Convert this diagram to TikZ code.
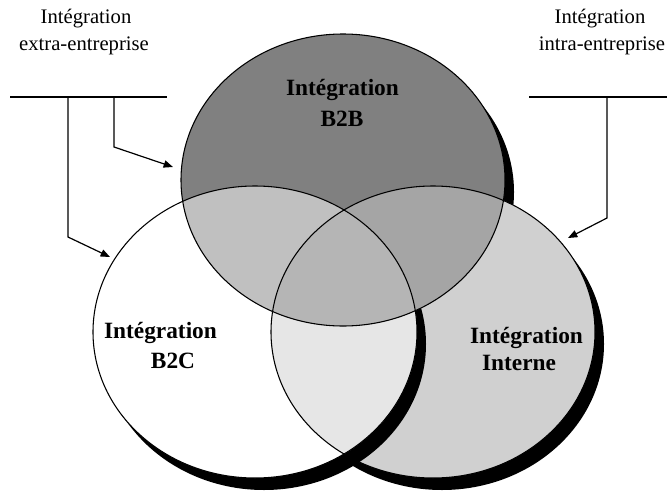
\documentclass[tikz,border=0pt]{standalone}
\usepackage{fontspec}
\setmainfont{Liberation Serif}
\usetikzlibrary{arrows.meta}
\definecolor{gA}{HTML}{808080}
\definecolor{gAC}{HTML}{C0C0C0}
\definecolor{gAI}{HTML}{A5A5A5}
\definecolor{gACI}{HTML}{B5B5B5}
\definecolor{gCI}{HTML}{E6E6E6}
\definecolor{gI}{HTML}{D0D0D0}
\begin{document}
\begin{tikzpicture}[x=0.75pt,y=-0.75pt,
  outl/.style={draw=black,line width=0.8pt},
  conn/.style={draw=black,line width=0.9pt},
  arr/.style={conn,-{Triangle[length=7pt,width=5.5pt]}},
  lblb/.style={font=\fontsize{17.5}{21}\selectfont\bfseries,inner sep=0pt,anchor=base},
  lblr/.style={font=\fontsize{15.5}{19}\selectfont,inner sep=0pt,anchor=base}]
\useasboundingbox (0,0) rectangle (667,496);
\fill[white] (0,0) rectangle (667,496);
% centres
\coordinate (cA) at (343,180);
\coordinate (cC) at (255,332);
\coordinate (cI) at (433,332);
\coordinate (sA) at (352,192);
\coordinate (sC) at (264,344);
\coordinate (sI) at (442,344);
% shadows and fills
\fill[black] (sA) ellipse [x radius=121.5pt, y radius=109.5pt];
\fill[black] (sI) ellipse [x radius=121.5pt, y radius=109.5pt];
\fill[gI] (cI) ellipse [x radius=121.5pt, y radius=109.5pt];
\fill[black] (sC) ellipse [x radius=121.5pt, y radius=109.5pt];
\fill[white] (cC) ellipse [x radius=121.5pt, y radius=109.5pt];
\begin{scope}
  \clip (cC) ellipse [x radius=121.5pt, y radius=109.5pt];
  \fill[gCI] (cI) ellipse [x radius=121.5pt, y radius=109.5pt];
\end{scope}
\fill[gA] (cA) ellipse [x radius=121.5pt, y radius=109.5pt];
\begin{scope}
  \clip (cA) ellipse [x radius=121.5pt, y radius=109.5pt];
  \fill[gAC] (cC) ellipse [x radius=121.5pt, y radius=109.5pt];
  \fill[gAI] (cI) ellipse [x radius=121.5pt, y radius=109.5pt];
  \clip (cC) ellipse [x radius=121.5pt, y radius=109.5pt];
  \fill[gACI] (cI) ellipse [x radius=121.5pt, y radius=109.5pt];
\end{scope}
\draw[outl] (cA) ellipse [x radius=121.5pt, y radius=109.5pt];
\draw[outl] (cC) ellipse [x radius=121.5pt, y radius=109.5pt];
\draw[outl] (cI) ellipse [x radius=121.5pt, y radius=109.5pt];
% labels in circles
\node[lblb] (a1) at (342.5,95) {Intégration};
\node[lblb] (a2) at (342,126) {B2B};
\node[lblb] (c1) at (160.5,338) {Intégration};
\node[lblb] (c2) at (173,368) {B2C};
\node[lblb] (i1) at (526.5,343) {Intégration};
\node[lblb] (i2) at (519,370) {Interne};
% top labels
\node[lblr] (tl1) at (86,23) {Intégration};
\node[lblr] (tl2) at (84,50) {extra-entreprise};
\node[lblr] (tr1) at (600,23) {Intégration};
\node[lblr] (tr2) at (602,50) {intra-entreprise};
% connectors
\coordinate (hl1) at (10,97);
\coordinate (hl2) at (167,97);
\coordinate (b1top) at (68,97);
\coordinate (b1bend) at (68,237);
\coordinate (tC) at (110,257);
\coordinate (b2top) at (114,97);
\coordinate (b2bend) at (114,147);
\coordinate (tA) at (173,167);
\coordinate (hr1) at (529,97);
\coordinate (hr2) at (667,97);
\coordinate (b3top) at (607,97);
\coordinate (b3bend) at (607,218);
\coordinate (tI) at (568,238);
\draw[conn] (hl1) -- (hl2);
\draw[conn] (hr1) -- (hr2);
\draw[arr] (b1top) -- (b1bend) -- (tC);
\draw[arr] (b2top) -- (b2bend) -- (tA);
\draw[arr] (b3top) -- (b3bend) -- (tI);
\end{tikzpicture}
\end{document}
